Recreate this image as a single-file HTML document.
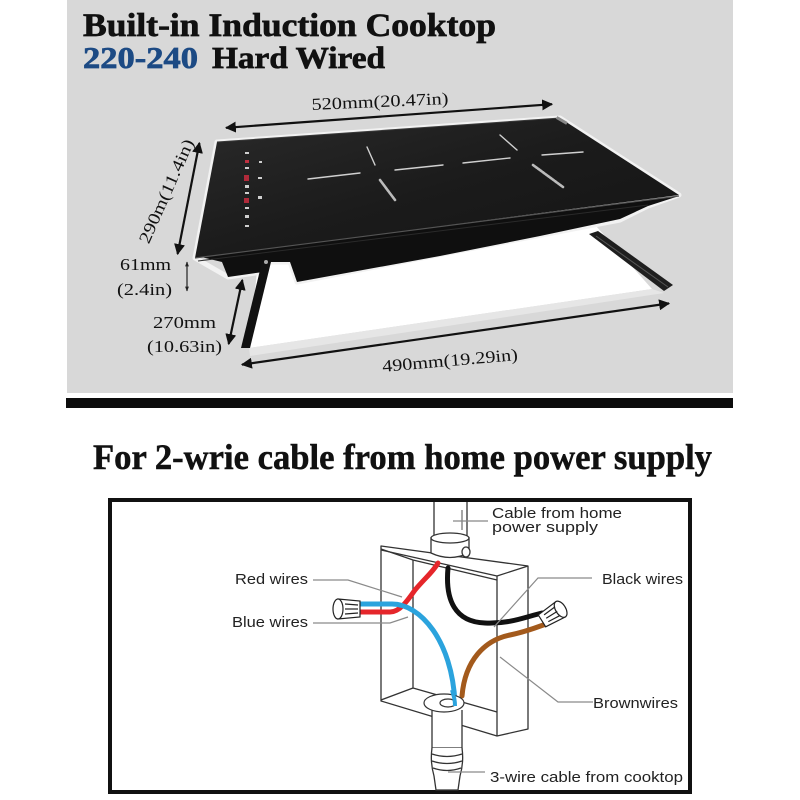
<!DOCTYPE html>
<html><head><meta charset="utf-8"><style>
html,body{margin:0;padding:0;background:#fff;}
svg{display:block;}
</style></head><body>
<svg width="800" height="800" viewBox="0 0 800 800" xmlns="http://www.w3.org/2000/svg">
<defs>
<linearGradient id="glass" x1="0" y1="0" x2="1" y2="1">
<stop offset="0" stop-color="#2a2a2a"/><stop offset="0.5" stop-color="#1b1b1b"/><stop offset="1" stop-color="#141414"/>
</linearGradient>
<marker id="ah" viewBox="0 0 10 10" refX="9" refY="5" markerWidth="5" markerHeight="5" orient="auto-start-reverse">
<path d="M0,0 L10,5 L0,10 Z" fill="#111"/></marker>
<marker id="ahs" viewBox="0 0 10 10" refX="9" refY="5" markerWidth="4" markerHeight="5" orient="auto-start-reverse">
<path d="M0,1 L10,5 L0,9 Z" fill="#222"/></marker>
</defs>

<!-- top gray panel -->
<rect x="67" y="0" width="666" height="393" fill="#d8d8d8"/>
<rect x="66" y="398" width="667" height="10" fill="#0c0c0c"/>

<text x="83" y="36" font-family="Liberation Serif, serif" font-weight="bold" font-size="33" fill="#111" stroke="#111" stroke-width="0.7" textLength="413" lengthAdjust="spacingAndGlyphs">Built-in Induction Cooktop</text>
<text x="83" y="68" font-family="Liberation Serif, serif" font-weight="bold" font-size="31" fill="#1c4a84" stroke="#1c4a84" stroke-width="0.7" textLength="115" lengthAdjust="spacingAndGlyphs">220-240</text>
<text x="212" y="68" font-family="Liberation Serif, serif" font-weight="bold" font-size="31" fill="#111" stroke="#111" stroke-width="0.7" textLength="173" lengthAdjust="spacingAndGlyphs">Hard Wired</text>

<!-- cutout white -->
<polygon points="258,262 596,226 652,289 249,348" fill="#ffffff"/>
<polygon points="249,348 652,289 664,293 250,356" fill="#e6e6e6"/>

<!-- right rail -->
<polygon points="589,234 598,231 673,285 664,291" fill="#1e1e1e"/>
<line x1="596" y1="236" x2="668" y2="287" stroke="#555" stroke-width="1"/>

<!-- cooktop halo -->
<polygon points="217,142 560,118 679,195 648,206 620,220 297,282 290,262 264,262 263,272 228,277 195,258" fill="none" stroke="#f2f2f2" stroke-width="5" stroke-linejoin="round"/>
<!-- body -->
<polygon points="197,256 222,262 228,277 263,272 266,262 290,262 297,282 440,256 540,236 620,219 648,206 679,196" fill="#0f0f0f"/>
<!-- glass -->
<polygon points="217,142 560,118 679,195 195,258" fill="url(#glass)"/>
<line x1="195" y1="258" x2="679" y2="196" stroke="#555" stroke-width="1.2"/>
<line x1="198" y1="261" x2="648" y2="205" stroke="#2a2a2a" stroke-width="1"/>
<line x1="217" y1="142" x2="560" y2="118" stroke="#3a3a3a" stroke-width="1"/>
<rect x="556" y="119" width="12" height="3" fill="#888" transform="rotate(30 562 120)"/>

<!-- left rail -->
<polygon points="262,262 271,262 250,348 241,348" fill="#111"/>
<circle cx="266" cy="262" r="2" fill="#aaa"/>

<!-- control panel -->
<g fill="#cfcfcf">
<rect x="245" y="152" width="4" height="2"/>
<rect x="245" y="160" width="4" height="3" fill="#c03040"/>
<rect x="245" y="167" width="4" height="2"/>
<rect x="244" y="175" width="5" height="6" fill="#b02a3a"/>
<rect x="245" y="185" width="4" height="3"/>
<rect x="245" y="192" width="4" height="2"/>
<rect x="244" y="198" width="5" height="5" fill="#b02a3a"/>
<rect x="245" y="207" width="4" height="2"/>
<rect x="245" y="215" width="4" height="3"/>
<rect x="245" y="225" width="4" height="2"/>
<rect x="259" y="161" width="3" height="2"/>
<rect x="258" y="177" width="4" height="2"/>
<rect x="258" y="196" width="4" height="3"/>
</g>

<!-- burner marks -->
<g stroke="#d0d0d0" stroke-width="1.4" stroke-linecap="round">
<line x1="308" y1="179" x2="360" y2="173"/>
<line x1="367" y1="147" x2="375" y2="165"/>
<line x1="395" y1="170" x2="443" y2="165"/>
<line x1="463" y1="163" x2="510" y2="158"/>
<line x1="500" y1="135" x2="517" y2="150"/>
<line x1="542" y1="155" x2="583" y2="152"/>
</g>
<g stroke="#bbbbbb" stroke-width="2.6" stroke-linecap="round" stroke-dasharray="2 1">
<line x1="380" y1="180" x2="395" y2="200"/>
<line x1="533" y1="165" x2="563" y2="187"/>
</g>

<!-- dimension arrows -->
<g stroke="#111" stroke-width="2.2" fill="none">
<line x1="226" y1="127.8" x2="552" y2="104.2" marker-start="url(#ah)" marker-end="url(#ah)"/>
<line x1="199.4" y1="143" x2="177.6" y2="254" marker-start="url(#ah)" marker-end="url(#ah)"/>
<line x1="242.3" y1="280" x2="228.7" y2="344" marker-start="url(#ah)" marker-end="url(#ah)"/>
<line x1="242" y1="364.6" x2="669" y2="303.4" marker-start="url(#ah)" marker-end="url(#ah)"/>
</g>
<line x1="187" y1="262" x2="187" y2="291" stroke="#222" stroke-width="1.2" marker-start="url(#ahs)" marker-end="url(#ahs)"/>

<g font-family="Liberation Serif, serif" font-size="17" fill="#111">
<text x="380" y="107" text-anchor="middle" textLength="137" lengthAdjust="spacingAndGlyphs" transform="rotate(-2.5 380 102)">520mm(20.47in)</text>
<text x="166" y="197" text-anchor="middle" textLength="112" lengthAdjust="spacingAndGlyphs" transform="rotate(-66 166 191)">290m(11.4in)</text>
<text x="120" y="270" textLength="51" lengthAdjust="spacingAndGlyphs">61mm</text>
<text x="117" y="295" textLength="55" lengthAdjust="spacingAndGlyphs">(2.4in)</text>
<text x="153" y="328" textLength="63" lengthAdjust="spacingAndGlyphs">270mm</text>
<text x="147" y="352" textLength="75" lengthAdjust="spacingAndGlyphs">(10.63in)</text>
<text x="450" y="366" text-anchor="middle" textLength="136" lengthAdjust="spacingAndGlyphs" transform="rotate(-5 450 361)">490mm(19.29in)</text>
</g>

<!-- lower title -->
<text x="93" y="469" font-family="Liberation Serif, serif" font-weight="bold" font-size="36" fill="#111" stroke="#111" stroke-width="0.5" textLength="619" lengthAdjust="spacingAndGlyphs">For 2-wrie cable from home power supply</text>

<!-- wiring box frame -->
<rect x="110" y="500" width="580" height="292" fill="#fff" stroke="#111" stroke-width="4"/>

<!-- top conduit -->
<g stroke="#333" stroke-width="1.3" fill="#fff">
<line x1="434" y1="502" x2="434" y2="538"/>
<line x1="467" y1="502" x2="467" y2="538"/>
<line x1="462" y1="510" x2="462" y2="530" stroke="#777"/>
</g>

<!-- junction box -->
<g stroke="#333" stroke-width="1.3" fill="none" stroke-linejoin="round">
<path d="M381,546 L528,566 L528,729 L497,736 L381,701 Z" fill="#fff"/>
<path d="M381,550 L497,576 L528,566"/>
<path d="M497,576 L497,736"/>
<path d="M381,549 L413,560 L497,580"/>
<path d="M413,560 L413,688 L497,712"/>
<path d="M381,700 L413,688"/>
</g>

<!-- top fitting -->
<g stroke="#333" stroke-width="1.3" fill="#fff">
<path d="M431,538 L431,553 Q450,562 469,553 L469,538 Z"/>
<ellipse cx="450" cy="538" rx="19" ry="5"/>
<ellipse cx="466" cy="552" rx="4" ry="5"/>
</g>
<line x1="453" y1="521" x2="488" y2="521" stroke="#888" stroke-width="1.2"/>

<!-- lower conduit -->
<g stroke="#333" stroke-width="1.3" fill="#fff">
<path d="M432,710 L432,748 L462,748 L462,710"/>
<path d="M432,748 Q430,762 434,776 L436,790 L458,790 L460,776 Q464,762 462,748"/>
<path d="M432,754 Q447,759 462,754" fill="none"/>
<path d="M432,761 Q447,766 462,761" fill="none"/>
<path d="M433,768 Q447,773 461,768" fill="none"/>
</g>

<!-- wires -->
<g fill="none" stroke-linecap="round" stroke-width="5">
<path d="M448,568 C445,600 455,622 485,623 C510,624 525,617 542,613" stroke="#111"/>
<path d="M462,696 C465,660 485,640 510,635 C525,632 535,628 546,624" stroke="#a35a1c"/>
<path d="M352,612 L390,612 C400,612 408,600 415,590 C425,578 433,572 438,563" stroke="#e5262b"/>
<path d="M352,604 L392,604 C420,604 452,640 455,703" stroke="#2ba3dd"/>
</g>

<!-- bottom fitting ring -->
<g stroke="#333" stroke-width="1.2" fill="#fff">
<ellipse cx="444" cy="703" rx="20" ry="9"/>
<ellipse cx="448" cy="703" rx="8" ry="4" fill="none"/>
</g>
<path d="M452,690 C454,697 455,700 455,706" stroke="#2ba3dd" stroke-width="4" fill="none"/>

<!-- wire nuts -->
<g stroke="#222" stroke-width="1.2" fill="#fff">
<path d="M338,599 L360,601 L360,617 L338,619 Z"/>
<ellipse cx="338" cy="609" rx="5" ry="10"/>
<line x1="345" y1="604" x2="358" y2="605"/>
<line x1="345" y1="609" x2="358" y2="609"/>
<line x1="345" y1="614" x2="358" y2="613"/>
</g>
<g stroke="#222" stroke-width="1.2" fill="#fff" transform="rotate(-32 553 614)">
<path d="M540,607 L562,605 L562,623 L540,621 Z"/>
<ellipse cx="562" cy="614" rx="5" ry="9"/>
<line x1="545" y1="610" x2="558" y2="609"/>
<line x1="545" y1="614" x2="558" y2="614"/>
<line x1="545" y1="618" x2="558" y2="619"/>
</g>

<!-- leaders -->
<g stroke="#8a8a8a" stroke-width="1.2" fill="none">
<path d="M313,580 L348,580 L402,597"/>
<path d="M313,623 L390,623 L408,617"/>
<path d="M592,578 L538,578 L494,627"/>
<path d="M593,702 L558,702 L500,657"/>
<path d="M448,772 L485,772"/>
</g>

<g font-family="Liberation Sans, sans-serif" font-size="15" fill="#222">
<text x="492" y="518" textLength="130" lengthAdjust="spacingAndGlyphs">Cable from home</text>
<text x="492" y="532" textLength="106" lengthAdjust="spacingAndGlyphs">power supply</text>
<text x="235" y="584" textLength="73" lengthAdjust="spacingAndGlyphs">Red  wires</text>
<text x="232" y="627" textLength="76" lengthAdjust="spacingAndGlyphs">Blue  wires</text>
<text x="602" y="584" textLength="81" lengthAdjust="spacingAndGlyphs">Black wires</text>
<text x="593" y="708" textLength="85" lengthAdjust="spacingAndGlyphs">Brownwires</text>
<text x="490" y="782" textLength="193" lengthAdjust="spacingAndGlyphs">3-wire cable from cooktop</text>
</g>
</svg>
</body></html>
